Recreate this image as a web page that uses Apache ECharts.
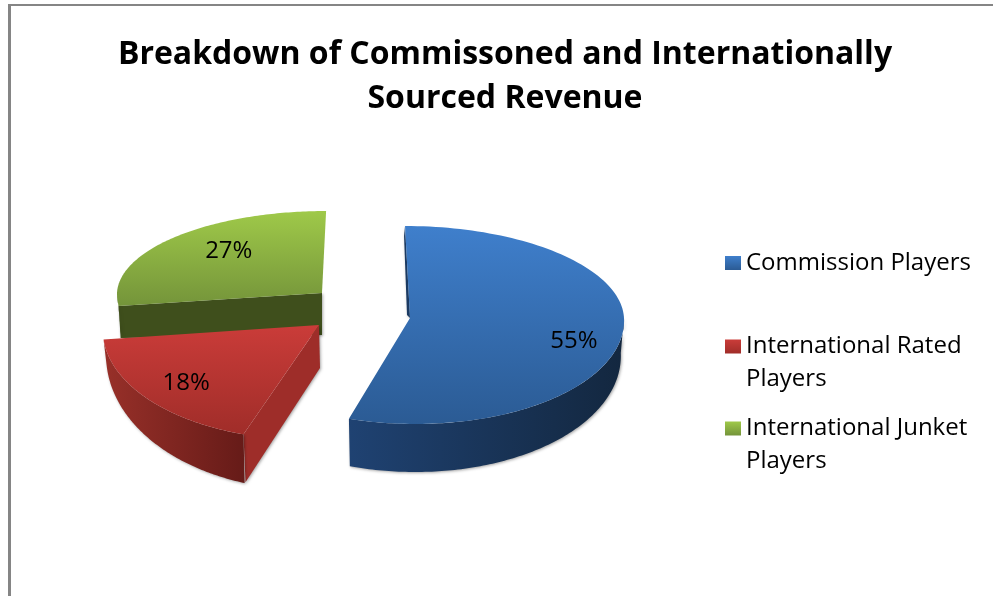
<!DOCTYPE html>
<html>
<head>
<meta charset="utf-8">
<style>html,body{margin:0;padding:0;background:#fff}#c{width:993px;height:596px}</style>
<script src="https://cdn.jsdelivr.net/npm/echarts@6/dist/echarts.min.js"></script>
</head>
<body>
<div id="c"></div>
<script>
const titleText = 'Breakdown of Commissoned and Internationally\nSourced Revenue';
const categories = ['Commission Players', 'International Rated\nPlayers', 'International Junket\nPlayers'];
const values = [55, 18, 27];

const FONT = '"Open Sans", Lato, sans-serif';
function vgrad(a, b) { return {type:'linear', x:0, y:0, x2:0, y2:1, colorStops:[{offset:0,color:a},{offset:1,color:b}]}; }
function hgrad(a, b) { return {type:'linear', x:0, y:0, x2:1, y2:0, colorStops:[{offset:0,color:a},{offset:1,color:b}]}; }

// Look of each wedge: where the exploded wedge sits and how the fake 3D view distorts it.
const looks = [
  {cx:410, cy:318, rx:214, ryB:92, ryF:106, skB:0.054, skF:0.05, d0:35, d1:48,
   top:vgrad('#3f7fcc','#2b5b94'), wall:hgrad('#1f4272','#13273f'), face:'#1b3a62',
   fo:[-1,10], fa:[-3,-3], lf:[0.77,1.4], z:3},
  {cx:319, cy:325, rx:216, ryB:100, ryF:115, skB:0, skF:-0.08, d0:24, d1:50,
   top:vgrad('#ca3c39','#a02d29'), wall:hgrad('#983029','#661b18'), face:'#9e2d29',
   fo:[2,48], fa:[1,43], lf:[0.77,0.79], z:2},
  {cx:322, cy:293, rx:205, ryB:82, ryF:104, skB:-0.05, skF:0, d0:30, d1:40,
   top:vgrad('#9fc949','#74943a'), wall:'#3f4f1c', face:'#3f4f1c',
   fo:[2,32], fa:[0,42], lf:[0.62,0.78], z:1}
];
const legendColors = [vgrad('#3f7fcc','#2b5b94'), vgrad('#ca3c39','#a02d29'), vgrad('#9fc949','#74943a')];
const legendTops = [246.5, 297, 379];
const total = values.reduce((a,b)=>a+b,0);

function project(L, ang, fu, fv) {
  const u = Math.sin(ang)*(fu===undefined?1:fu), v = -Math.cos(ang)*(fv===undefined?1:fv);
  const dy = v>=0 ? L.ryF*v : L.ryB*v;
  const sk = v>=0 ? L.skF : L.skB;
  return [L.cx + L.rx*u + sk*dy, L.cy + dy];
}
function renderer(i) {
  return function () {
    const L = looks[i];
    const before = values.slice(0,i).reduce((a,b)=>a+b,0);
    const a0 = before/total*2*Math.PI, a1 = (before+values[i])/total*2*Math.PI;
    const N = 120, arc = [];
    for (let k=0;k<=N;k++) arc.push(project(L, a0+(a1-a0)*k/N));
    const kids = [];
    const out = arc[0];
    kids.push({type:'polygon', shape:{points:[out,[L.cx,L.cy],[L.cx+L.fa[0],L.cy+L.fa[1]],[out[0]+L.fo[0],out[1]+L.fo[1]]]},
      style:{fill:L.face, shadowBlur:3, shadowColor:'rgba(0,0,0,0.35)', shadowOffsetX:1, shadowOffsetY:1}});
    const w0 = Math.max(a0, Math.PI/2), w1 = Math.min(a1, Math.PI*1.5);
    if (w1>w0) {
      const up=[], lo=[];
      for (let k=0;k<=N;k++) {
        const a=w0+(w1-w0)*k/N, p=project(L,a), v=Math.max(0,-Math.cos(a));
        up.push(p);
        lo.push([L.cx+(p[0]-L.cx)*0.985, p[1]+L.d0+(L.d1-L.d0)*v]);
      }
      kids.push({type:'polygon', shape:{points:up.concat(lo.reverse())},
        style:{fill:L.wall, shadowBlur:3, shadowColor:'rgba(0,0,0,0.35)', shadowOffsetX:1, shadowOffsetY:1}});
    }
    kids.push({type:'polygon', shape:{points:[[L.cx,L.cy]].concat(arc)}, style:{fill:L.top}});
    const m = project(L,(a0+a1)/2,L.lf[0],L.lf[1]);
    kids.push({type:'text', style:{x:m[0], y:m[1], text:Math.round(values[i]/total*100)+'%',
      font:'24px '+FONT, fill:'#000', align:'center', verticalAlign:'middle'}});
    return {type:'group', children:kids};
  };
}
const series = categories.map((name,i)=>({
  type:'custom', name:name, coordinateSystem:'none', z:looks[i].z, silent:true,
  itemStyle:{color:legendColors[i]}, data:[[values[i]]], renderItem:renderer(i)
}));
const legends = categories.map((name,i)=>({
  orient:'vertical', left:725, top:legendTops[i], padding:0, itemWidth:16, itemHeight:14, icon:'rect', selectedMode:false,
  textStyle:{fontFamily:FONT, fontSize:24, lineHeight:33, color:'#000'},
  // a blank first line keeps the icon level with the first line of a wrapped name
  formatter:n=>n.indexOf('\n')>=0 ? '\n'+n : n,
  data:[{name:name}]
}));
const chart = echarts.init(document.getElementById('c'), null, {renderer:'canvas'});
chart.setOption({
  animation:false,
  backgroundColor:'#fff',
  title:{text:titleText, left:505, top:33, padding:0, textAlign:'center',
    textStyle:{fontFamily:FONT, fontWeight:'bold', fontSize:32, lineHeight:44, color:'#000'}},
  legend:legends,
  graphic:[
    {type:'rect', shape:{x:8,y:4,width:985,height:2}, style:{fill:'#858585'}, silent:true},
    {type:'rect', shape:{x:8,y:4,width:3,height:592}, style:{fill:'#858585'}, silent:true}
  ],
  series:series
});
</script>
</body>
</html>
